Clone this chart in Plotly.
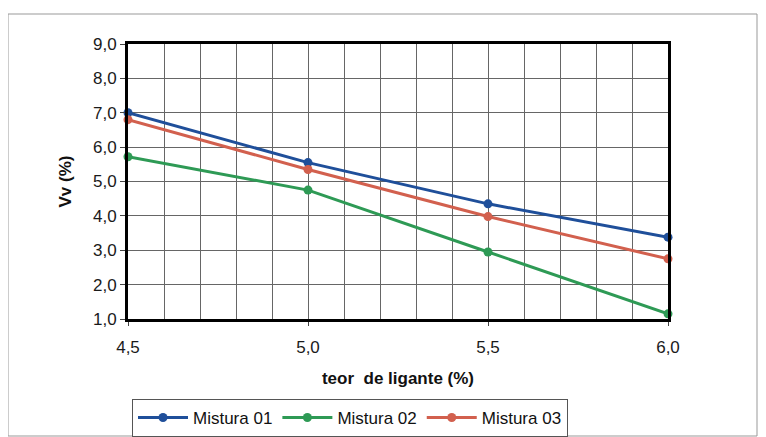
import plotly.graph_objects as go

teor = [4.5, 5.0, 5.5, 6.0]
mistura_01 = [7.0, 5.55, 4.35, 3.38]
mistura_02 = [5.72, 4.75, 2.95, 1.15]
mistura_03 = [6.8, 5.35, 3.98, 2.75]
names = ["Mistura 01", "Mistura 02", "Mistura 03"]
colors = ["#1f4f9a", "#2e9a55", "#d2604e"]

fig = go.Figure()
for name, vals, c in zip(names, [mistura_01, mistura_02, mistura_03], colors):
    fig.add_trace(go.Scatter(x=teor, y=vals, name=name, mode="lines+markers", cliponaxis=False,
                             line=dict(color=c, width=3), marker=dict(color=c, size=9)))

# page body has an 8px margin, so work in screen coords and shift
OFF = 8
W, H = 766 - OFF, 437 - OFF
L, R, T, B = 128 - OFF, 668 - OFF, 44 - OFF, 319 - OFF
pw, ph = R - L, B - T

def px_x(p):
    return (p - OFF - L) / pw

def px_y(p):
    return (B - (p - OFF)) / ph

def cx(p):
    return (p - OFF) / W

def cy(p):
    return 1 - (p - OFF) / H

fig.update_layout(
    width=W, height=H,
    margin=dict(l=L, r=W - R, t=T, b=H - B, pad=0, autoexpand=False),
    paper_bgcolor="white", plot_bgcolor="white",
    separators=", ",
    font=dict(family="Liberation Sans, Arial", size=17, color="#1a1a1a"),
    showlegend=True,
    legend=dict(orientation="h", xref="container", yref="container",
                x=cx(350), xanchor="center", y=cy(399), yanchor="top",
                bordercolor="#555", borderwidth=1, font=dict(size=17, color="#111"),
                itemwidth=50, tracegroupgap=0),
    xaxis=dict(range=[4.5, 6.0], tickmode="array", tickvals=[4.5, 5.0, 5.5, 6.0],
               tickformat=".1f", showgrid=False, zeroline=False, automargin=False,
               showline=True, linecolor="black", linewidth=3, mirror=True,
               ticks="outside", ticklen=4, tickcolor="#444", ticklabelstandoff=7,
               minor=dict(dtick=0.1, showgrid=True, gridcolor="#666", gridwidth=1, tick0=4.5),
               title=dict(text="<b>teor  de ligante (%)</b>", font=dict(size=17, color="#111"), standoff=16),
               tickfont=dict(size=17)),
    yaxis=dict(range=[1, 9], dtick=1, tick0=1, tickformat=".1f", showgrid=True,
               gridcolor="#666", gridwidth=1, zeroline=False, automargin=False,
               showline=True, linecolor="black", linewidth=3, mirror=True,
               ticks="outside", ticklen=5, tickcolor="#444", ticklabelstandoff=0,
               title=dict(text="<b>Vv (%)</b>", font=dict(size=17, color="#111"), standoff=18),
               tickfont=dict(size=17)),
    shapes=[dict(type="rect", xref="paper", yref="paper",
                 x0=px_x(8), x1=px_x(757), y0=px_y(436), y1=px_y(14),
                 line=dict(color="#999", width=1), layer="below")],
)
fig.write_html("out.html")
